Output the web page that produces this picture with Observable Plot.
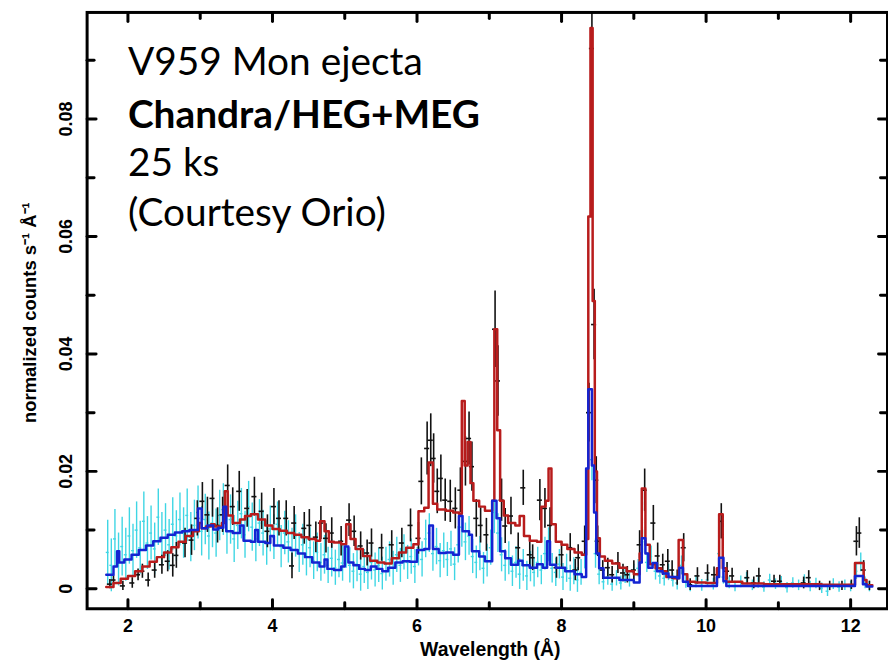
<!DOCTYPE html>
<html><head><meta charset="utf-8">
<script src="https://cdn.jsdelivr.net/npm/d3@7"></script>
<script src="https://cdn.jsdelivr.net/npm/@observablehq/plot@0.6"></script>
<style>
body{margin:0;background:#fff;}
#wrap{width:888px;height:665px;overflow:hidden;position:relative;}
</style></head><body><div id="wrap"></div>
<script>
// ---- tick labels ----
const xTickVals = [2, 4, 6, 8, 10, 12];
const xTickLabels = ["2", "4", "6", "8", "10", "12"];
const xMinorTicks = [3, 5, 7, 9, 11];
const yTickVals = [0, 0.02, 0.04, 0.06, 0.08];
const yTickLabels = ["0", "0.02", "0.04", "0.06", "0.08"];
const yMinorTicks = [0.01, 0.03, 0.05, 0.07, 0.09];
const annotLines = ["V959 Mon ejecta", "Chandra/HEG+MEG", "25 ks", "(Courtesy Orio)"];

// ---- HEG data (black crosses) ----
const hegX = [1.75,1.80,1.93,2.06,2.14,2.20,2.28,2.37,2.47,2.55,2.62,2.67,2.79,2.88,2.96,3.03,3.10,3.17,3.24,3.31,3.38,3.45,3.54,3.65,3.75,3.85,3.93,4.02,4.09,4.19,4.27,4.30,4.44,4.51,4.60,4.67,4.74,4.82,4.95,5.06,5.13,5.22,5.31,5.37,5.51,5.65,5.79,5.91,6.02,6.06,6.14,6.19,6.23,6.28,6.33,6.39,6.46,6.53,6.60,6.67,6.72,6.76,6.82,6.88,6.96,7.08,7.12,7.17,7.22,7.30,7.40,7.47,7.56,7.60,7.70,7.77,7.84,7.93,8.00,8.12,8.19,8.23,8.32,8.38,8.42,8.45,8.48,8.50,8.57,8.64,8.70,8.78,8.85,8.91,9.00,9.08,9.15,9.27,9.33,9.40,9.47,9.53,9.60,9.69,9.78,9.88,10.02,10.11,10.21,10.29,10.36,10.57,10.66,10.73,10.94,11.02,11.35,11.42,11.57,11.71,11.88,12.01,12.08,12.12,12.18,12.26];
const hegY = [0.0008,0.0015,0.0005,0.0010,0.0024,0.0030,0.0015,0.0032,0.0041,0.0047,0.0040,0.0057,0.0078,0.0083,0.0120,0.0149,0.0126,0.0154,0.0108,0.0126,0.0176,0.0140,0.0166,0.0137,0.0157,0.0132,0.0098,0.0140,0.0120,0.0120,0.0039,0.0112,0.0103,0.0108,0.0088,0.0112,0.0086,0.0095,0.0081,0.0117,0.0098,0.0073,0.0061,0.0078,0.0070,0.0075,0.0078,0.0108,0.0086,0.0183,0.0239,0.0253,0.0222,0.0166,0.0188,0.0151,0.0149,0.0137,0.0168,0.0217,0.0256,0.0208,0.0120,0.0108,0.0092,0.0442,0.0354,0.0151,0.0107,0.0124,0.0070,0.0172,0.0058,0.0053,0.0151,0.0137,0.0108,0.0036,0.0058,0.0070,0.0032,0.0053,0.0081,0.0300,0.0920,0.0450,0.0185,0.0081,0.0032,0.0036,0.0024,0.0044,0.0027,0.0024,0.0032,0.0075,0.0168,0.0112,0.0056,0.0041,0.0047,0.0032,0.0019,0.0070,0.0007,0.0022,0.0027,0.0024,0.0115,0.0030,0.0022,0.0019,0.0010,0.0022,0.0013,0.0013,0.0010,0.0019,0.0005,0.0005,0.0005,0.0007,0.0081,0.0095,0.0032,0.0005];
const hegErr = [0.0008,0.0008,0.0008,0.0009,0.0010,0.0012,0.0012,0.0014,0.0016,0.0018,0.0020,0.0022,0.0025,0.0026,0.0030,0.0032,0.0030,0.0032,0.0030,0.0030,0.0035,0.0032,0.0034,0.0032,0.0033,0.0031,0.0028,0.0031,0.0030,0.0030,0.0022,0.0028,0.0027,0.0027,0.0026,0.0028,0.0025,0.0026,0.0025,0.0028,0.0026,0.0024,0.0022,0.0024,0.0023,0.0024,0.0025,0.0028,0.0027,0.0040,0.0045,0.0045,0.0042,0.0038,0.0040,0.0036,0.0036,0.0035,0.0038,0.0042,0.0045,0.0042,0.0032,0.0030,0.0028,0.0065,0.0060,0.0036,0.0030,0.0032,0.0025,0.0030,0.0023,0.0022,0.0035,0.0034,0.0030,0.0018,0.0022,0.0024,0.0018,0.0022,0.0026,0.0050,0.0060,0.0060,0.0040,0.0026,0.0016,0.0016,0.0014,0.0018,0.0015,0.0014,0.0016,0.0024,0.0036,0.0030,0.0022,0.0018,0.0020,0.0016,0.0013,0.0024,0.0010,0.0014,0.0014,0.0013,0.0030,0.0015,0.0013,0.0012,0.0010,0.0013,0.0010,0.0010,0.0010,0.0012,0.0008,0.0008,0.0008,0.0008,0.0025,0.0026,0.0016,0.0008];

// ---- MEG data (cyan) ----
const megX = [1.72,1.77,1.82,1.87,1.92,1.97,2.02,2.07,2.12,2.17,2.22,2.27,2.32,2.37,2.42,2.47,2.52,2.57,2.62,2.67,2.72,2.77,2.82,2.87,2.92,2.97,3.02,3.07,3.12,3.17,3.22,3.27,3.32,3.37,3.42,3.47,3.52,3.57,3.62,3.67,3.72,3.77,3.82,3.87,3.92,3.97,4.02,4.07,4.12,4.17,4.22,4.27,4.32,4.37,4.42,4.47,4.52,4.57,4.62,4.67,4.72,4.77,4.82,4.87,4.92,4.97,5.02,5.07,5.12,5.17,5.22,5.27,5.32,5.37,5.42,5.47,5.52,5.57,5.62,5.67,5.72,5.77,5.82,5.87,5.92,5.97,6.02,6.07,6.12,6.17,6.22,6.27,6.32,6.37,6.42,6.47,6.52,6.57,6.62,6.67,6.72,6.77,6.82,6.87,6.92,6.97,7.02,7.07,7.12,7.17,7.22,7.27,7.32,7.37,7.42,7.47,7.52,7.57,7.62,7.67,7.72,7.77,7.82,7.87,7.92,7.97,8.02,8.07,8.12,8.17,8.22,8.27,8.32,8.37,8.42,8.47,8.52,8.58,8.64,8.70,8.76,8.82,8.88,8.94,9.00,9.06,9.12,9.18,9.24,9.30,9.36,9.42,9.48,9.54,9.60,9.66,9.72,9.78,9.86,9.94,10.02,10.10,10.18,10.24,10.32,10.40,10.48,10.56,10.64,10.72,10.80,10.88,10.96,11.04,11.12,11.20,11.28,11.36,11.44,11.52,11.60,11.68,11.76,11.84,11.92,12.00,12.08,12.14,12.20,12.26];
const megY = [0.0062,0.0040,0.0085,0.0050,0.0072,0.0058,0.0090,0.0065,0.0100,0.0070,0.0115,0.0078,0.0095,0.0068,0.0122,0.0085,0.0100,0.0075,0.0110,0.0090,0.0118,0.0095,0.0125,0.0088,0.0108,0.0130,0.0098,0.0118,0.0090,0.0112,0.0095,0.0125,0.0135,0.0100,0.0118,0.0085,0.0108,0.0128,0.0092,0.0140,0.0105,0.0085,0.0112,0.0095,0.0078,0.0102,0.0088,0.0110,0.0072,0.0095,0.0080,0.0068,0.0090,0.0062,0.0075,0.0055,0.0070,0.0048,0.0062,0.0045,0.0058,0.0040,0.0052,0.0036,0.0050,0.0044,0.0068,0.0040,0.0030,0.0042,0.0025,0.0038,0.0028,0.0045,0.0032,0.0040,0.0026,0.0042,0.0050,0.0035,0.0058,0.0040,0.0062,0.0045,0.0055,0.0038,0.0070,0.0050,0.0085,0.0095,0.0060,0.0072,0.0048,0.0065,0.0050,0.0068,0.0042,0.0075,0.0105,0.0080,0.0090,0.0055,0.0045,0.0060,0.0035,0.0048,0.0070,0.0130,0.0095,0.0058,0.0040,0.0052,0.0030,0.0045,0.0025,0.0040,0.0022,0.0038,0.0028,0.0045,0.0032,0.0060,0.0075,0.0035,0.0028,0.0042,0.0020,0.0035,0.0018,0.0030,0.0015,0.0028,0.0060,0.0300,0.0220,0.0060,0.0025,0.0012,0.0020,0.0008,0.0018,0.0010,0.0022,0.0015,0.0028,0.0035,0.0080,0.0045,0.0055,0.0030,0.0022,0.0018,0.0028,0.0015,0.0010,0.0040,0.0012,0.0005,0.0012,0.0006,0.0015,0.0008,0.0060,0.0020,0.0010,0.0004,0.0012,0.0018,0.0006,0.0010,0.0003,0.0015,0.0008,0.0012,0.0002,0.0010,0.0006,0.0014,0.0004,0.0009,0.0001,-0.0004,0.0008,0.0003,0.0006,0.0004,0.0030,0.0045,0.0010,0.0004];
const megErr = [0.0055,0.0045,0.0050,0.0045,0.0050,0.0045,0.0048,0.0045,0.0048,0.0045,0.0050,0.0045,0.0046,0.0044,0.0048,0.0045,0.0045,0.0043,0.0045,0.0043,0.0045,0.0043,0.0045,0.0042,0.0043,0.0045,0.0042,0.0043,0.0041,0.0042,0.0041,0.0043,0.0044,0.0041,0.0042,0.0040,0.0041,0.0043,0.0040,0.0043,0.0041,0.0039,0.0040,0.0039,0.0038,0.0039,0.0038,0.0038,0.0036,0.0037,0.0036,0.0035,0.0036,0.0034,0.0035,0.0033,0.0034,0.0032,0.0033,0.0032,0.0033,0.0031,0.0032,0.0030,0.0031,0.0031,0.0033,0.0030,0.0030,0.0030,0.0029,0.0029,0.0029,0.0030,0.0029,0.0029,0.0028,0.0029,0.0030,0.0029,0.0030,0.0029,0.0030,0.0029,0.0030,0.0029,0.0031,0.0030,0.0032,0.0033,0.0030,0.0031,0.0029,0.0030,0.0029,0.0030,0.0028,0.0031,0.0034,0.0032,0.0033,0.0029,0.0028,0.0029,0.0027,0.0028,0.0030,0.0036,0.0033,0.0029,0.0027,0.0028,0.0026,0.0027,0.0026,0.0027,0.0025,0.0026,0.0025,0.0026,0.0025,0.0028,0.0029,0.0025,0.0024,0.0025,0.0023,0.0024,0.0022,0.0023,0.0021,0.0022,0.0026,0.0040,0.0036,0.0025,0.0018,0.0014,0.0014,0.0012,0.0013,0.0012,0.0013,0.0012,0.0014,0.0015,0.0020,0.0017,0.0018,0.0015,0.0014,0.0013,0.0014,0.0012,0.0012,0.0016,0.0011,0.0010,0.0010,0.0010,0.0010,0.0010,0.0018,0.0012,0.0010,0.0009,0.0010,0.0010,0.0009,0.0009,0.0009,0.0010,0.0009,0.0009,0.0009,0.0009,0.0009,0.0010,0.0009,0.0009,0.0009,0.0009,0.0009,0.0009,0.0009,0.0009,0.0014,0.0016,0.0010,0.0009];

// ---- folded model for HEG (red step line) ----
const redX = [1.70,1.80,1.90,2.00,2.10,2.20,2.30,2.40,2.50,2.60,2.70,2.80,2.90,2.98,3.02,3.08,3.15,3.20,3.30,3.34,3.38,3.45,3.55,3.62,3.70,3.80,3.90,4.00,4.10,4.20,4.30,4.40,4.50,4.60,4.66,4.72,4.78,4.85,4.95,5.02,5.08,5.15,5.25,5.35,5.45,5.55,5.65,5.75,5.85,5.95,6.02,6.10,6.16,6.22,6.28,6.40,6.50,6.58,6.62,6.66,6.70,6.74,6.78,6.86,6.94,7.04,7.07,7.11,7.15,7.20,7.26,7.36,7.42,7.48,7.56,7.66,7.72,7.78,7.82,7.86,7.92,8.00,8.08,8.18,8.28,8.34,8.37,8.40,8.43,8.46,8.49,8.53,8.60,8.70,8.80,8.90,9.00,9.08,9.11,9.16,9.22,9.30,9.38,9.45,9.55,9.62,9.68,9.74,9.85,10.00,10.15,10.18,10.23,10.28,10.50,10.80,11.20,11.60,12.02,12.06,12.18,12.22,12.30];
const redY = [0.0003,0.0010,0.0017,0.0022,0.0030,0.0038,0.0046,0.0054,0.0062,0.0071,0.0080,0.0090,0.0098,0.0112,0.0103,0.0106,0.0110,0.0106,0.0112,0.0166,0.0125,0.0112,0.0118,0.0124,0.0127,0.0118,0.0108,0.0102,0.0099,0.0095,0.0092,0.0088,0.0085,0.0082,0.0115,0.0098,0.0080,0.0079,0.0076,0.0110,0.0085,0.0068,0.0056,0.0048,0.0045,0.0043,0.0052,0.0062,0.0070,0.0076,0.0132,0.0138,0.0215,0.0145,0.0135,0.0133,0.0130,0.0128,0.0320,0.0210,0.0250,0.0180,0.0150,0.0140,0.0133,0.0150,0.0442,0.0270,0.0150,0.0125,0.0112,0.0108,0.0124,0.0090,0.0082,0.0080,0.0140,0.0150,0.0205,0.0110,0.0080,0.0075,0.0068,0.0062,0.0058,0.0085,0.0634,0.0955,0.0490,0.0200,0.0086,0.0055,0.0048,0.0043,0.0036,0.0030,0.0025,0.0060,0.0171,0.0075,0.0042,0.0035,0.0030,0.0020,0.0018,0.0083,0.0025,0.0012,0.0011,0.0010,0.0035,0.0127,0.0035,0.0012,0.0009,0.0008,0.0008,0.0007,0.0007,0.0044,0.0015,0.0006,0.0006];

// ---- folded model for MEG (blue step line) ----
const blueX = [1.70,1.80,1.85,1.88,1.95,2.05,2.15,2.25,2.35,2.45,2.55,2.65,2.75,2.85,2.97,3.02,3.10,3.18,3.25,3.32,3.36,3.45,3.55,3.60,3.70,3.76,3.80,3.90,3.97,4.02,4.15,4.25,4.35,4.45,4.55,4.65,4.72,4.76,4.85,4.95,5.00,5.05,5.12,5.20,5.28,5.36,5.44,5.52,5.60,5.70,5.80,5.90,6.00,6.10,6.17,6.22,6.30,6.40,6.50,6.58,6.63,6.72,6.76,6.86,6.94,7.04,7.10,7.15,7.22,7.30,7.40,7.46,7.56,7.66,7.74,7.80,7.84,7.92,8.05,8.18,8.28,8.34,8.37,8.42,8.45,8.48,8.52,8.58,8.80,9.00,9.08,9.11,9.16,9.20,9.26,9.32,9.40,9.48,9.60,9.63,9.68,9.75,10.15,10.18,10.24,10.28,12.02,12.06,12.17,12.22,12.30];
const blueY = [0.0024,0.0038,0.0064,0.0045,0.0050,0.0058,0.0066,0.0074,0.0081,0.0087,0.0092,0.0096,0.0098,0.0100,0.0137,0.0103,0.0108,0.0101,0.0104,0.0140,0.0098,0.0095,0.0108,0.0082,0.0080,0.0100,0.0080,0.0078,0.0090,0.0074,0.0070,0.0066,0.0060,0.0054,0.0045,0.0038,0.0050,0.0034,0.0032,0.0038,0.0072,0.0045,0.0040,0.0034,0.0032,0.0038,0.0034,0.0030,0.0036,0.0045,0.0047,0.0046,0.0066,0.0068,0.0108,0.0068,0.0061,0.0062,0.0058,0.0124,0.0098,0.0092,0.0064,0.0055,0.0047,0.0150,0.0120,0.0064,0.0052,0.0041,0.0048,0.0040,0.0036,0.0042,0.0036,0.0081,0.0041,0.0036,0.0030,0.0025,0.0020,0.0205,0.0340,0.0210,0.0130,0.0060,0.0035,0.0019,0.0015,0.0011,0.0045,0.0086,0.0060,0.0036,0.0044,0.0030,0.0026,0.0020,0.0018,0.0036,0.0012,0.0005,0.0020,0.0053,0.0013,0.0005,0.0005,0.0022,0.0008,0.0004,0.0004];

const heg = hegX.map((x, i) => ({x, y: hegY[i], e: hegErr[i]}));
const meg = megX.map((x, i) => ({x, y: megY[i], e: megErr[i]}));
const red = redX.map((x, i) => ({x, y: redY[i]}));
const blue = blueX.map((x, i) => ({x, y: blueY[i]}));

const CYAN = "#3fd6e4", RED = "#b81c1c", BLUE = "#1424d2", INK = "#111";
const tickShape = {draw(ctx, l) { ctx.moveTo(0, 0); ctx.lineTo(0, -l); }};
const font = "Liberation Sans, Arial, sans-serif";
const annotFont = "Lato, 'Open Sans', sans-serif";

function ticks(data, ch, anchor, rot, len) {
  return Plot.vector(data, {[ch]: d => d, frameAnchor: anchor, rotate: rot, length: len,
    anchor: "start", shape: tickShape, stroke: "#000", strokeWidth: 3});
}

const marks = [
  Plot.ruleX(meg, {x: "x", y1: d => d.y - d.e, y2: d => d.y + d.e, stroke: CYAN, strokeWidth: 1.4}),
  Plot.ruleY(meg, {y: "y", x1: d => d.x - 0.02, x2: d => d.x + 0.02, stroke: CYAN, strokeWidth: 1.4}),
  Plot.ruleX(heg, {x: "x", y1: d => d.y - d.e, y2: d => d.y + d.e, stroke: INK, strokeWidth: 1.6}),
  Plot.ruleY(heg, {y: "y", x1: d => d.x - 0.035, x2: d => d.x + 0.035, stroke: INK, strokeWidth: 1.6}),
  Plot.line(red, {x: "x", y: "y", curve: "step-after", stroke: RED, strokeWidth: 2.5}),
  Plot.line(blue, {x: "x", y: "y", curve: "step-after", stroke: BLUE, strokeWidth: 2.5}),
  Plot.frame({stroke: "#000", strokeWidth: 3}),
  ticks(xTickVals, "x", "bottom", 0, 9), ticks(xMinorTicks, "x", "bottom", 0, 6),
  ticks(xTickVals, "x", "top", 180, 9), ticks(xMinorTicks, "x", "top", 180, 6),
  ticks(yTickVals, "y", "left", 90, 9), ticks(yMinorTicks, "y", "left", 90, 7),
  ticks(yTickVals, "y", "right", -90, 9), ticks(yMinorTicks, "y", "right", -90, 7),
  Plot.text(xTickVals, {x: d => d, text: (d, i) => xTickLabels[i], frameAnchor: "bottom", dy: 18,
    lineAnchor: "middle", fontSize: 18, fontWeight: "bold", fontFamily: font, fill: "#000"}),
  Plot.text(yTickVals, {y: d => d, text: (d, i) => yTickLabels[i], frameAnchor: "left", dx: -21,
    rotate: -90, textAnchor: "middle", lineAnchor: "middle", fontSize: 18, fontWeight: "bold", fontFamily: font, fill: "#000"}),
  Plot.text(["Wavelength (Å)"], {frameAnchor: "bottom", dx: 3, dy: 41, lineAnchor: "middle",
    fontSize: 19.5, fontWeight: "bold", fontFamily: font, fill: "#000"}),
  Plot.text(["normalized counts s⁻¹ Å⁻¹"], {frameAnchor: "left", dx: -57, dy: 2, rotate: -90,
    textAnchor: "middle", lineAnchor: "middle", fontSize: 18.5, fontWeight: "bold", fontFamily: font, fill: "#000"}),
  ...annotLines.map((t, i) => Plot.text([t], {frameAnchor: "top-left", dx: 41, dy: [63, 116, 164, 215][i],
    lineAnchor: "bottom", textAnchor: "start", fontSize: 39, fontWeight: i === 1 ? "bold" : "normal",
    fontFamily: annotFont, fill: "#000"}))
];

const chart = Plot.plot({
  width: 892, height: 665,
  marginLeft: 87, marginRight: 1, marginTop: 12, marginBottom: 54,
  x: {domain: [1.435, 12.51], axis: null},
  y: {domain: [-0.00339, 0.09814], axis: null},
  style: {background: "#fff", overflow: "visible"},
  marks
});
document.getElementById("wrap").appendChild(chart);
</script></body></html>
